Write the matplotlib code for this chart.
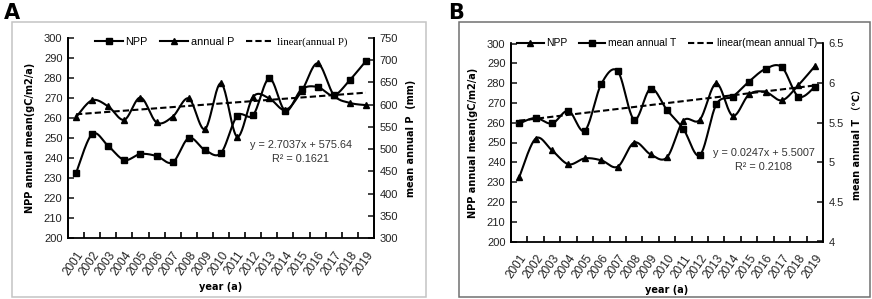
import numpy as np
import matplotlib
matplotlib.use("Agg")
import matplotlib.pyplot as plt
from matplotlib.lines import Line2D
from matplotlib.patches import Rectangle
from matplotlib.ticker import FuncFormatter, FixedLocator

plt.rcParams['font.family'] = ['Liberation Sans Narrow', 'Liberation Sans', 'DejaVu Sans']

years = [str(y) for y in range(2001, 2020)]
npp = [232.5, 252, 246, 239, 242, 241, 237.8, 250, 244, 242.5,
       261, 261.5, 279.8, 263.5, 274.3, 275.5, 271.3, 279, 288.5]
annual_p = [572, 610, 596, 566, 616, 560, 573, 614, 545, 648,
            528, 618, 614, 588, 630, 693, 622, 604, 599]
mean_t = [5.49, 5.56, 5.49, 5.65, 5.40, 5.99, 6.15, 5.54, 5.93, 5.66,
          5.42, 5.09, 5.73, 5.83, 6.02, 6.18, 6.20, 5.83, 5.95]
trend_p = (2.7037, 575.64)
trend_t = (0.0247, 5.5007)
r2_p = 0.1621
r2_t = 0.2108

x = np.arange(1, len(years) + 1)


def smooth(xs, ys, n=24):
    # Excel-style smoothed line (Catmull-Rom through the points)
    xs = np.asarray(xs, float)
    ys = np.asarray(ys, float)
    px = np.concatenate([[xs[0]], xs, [xs[-1]]])
    py = np.concatenate([[ys[0]], ys, [ys[-1]]])
    t = np.linspace(0, 1, n)[:, None]
    outx, outy = [], []
    for i in range(1, len(px) - 2):
        for p, out in ((px, outx), (py, outy)):
            p0, p1, p2, p3 = p[i - 1], p[i], p[i + 1], p[i + 2]
            c = 0.5 * (2 * p1 + (-p0 + p2) * t + (2 * p0 - 5 * p1 + 4 * p2 - p3) * t ** 2
                       + (-p0 + 3 * p1 - 3 * p2 + p3) * t ** 3)
            out.append(c.ravel())
    return np.concatenate(outx), np.concatenate(outy)


def style_axis(ax):
    ax.spines['top'].set_visible(False)
    for s in ['left', 'right', 'bottom']:
        ax.spines[s].set_linewidth(1.3)
    ax.tick_params(axis='y', direction='in', length=4, width=1.2, labelsize=8, colors='#222222', pad=4)


LABEL_FONT = ['DejaVu Sans', 'Noto Sans CJK SC']


def draw_panel(rect, frame_rect, frame_col, letter, letter_x, left_series, left_marker,
               right_series, right_marker, right_lim, right_ticks, right_label,
               left_name, right_name, trend, r2, eq_pos, lin_family, leg_y, leg_size):
    ax = fig.add_axes(rect)
    ax2 = ax.twinx()
    ax.set_zorder(ax2.get_zorder() + 1)
    ax.patch.set_visible(False)

    sx, sy = smooth(x, left_series)
    ax.plot(sx, sy, color='black', lw=1.5)
    ax.plot(x, left_series, ls='none', marker=left_marker, color='black', ms=5)
    sx, sy = smooth(x, right_series)
    ax2.plot(sx, sy, color='black', lw=1.5)
    ax2.plot(x, right_series, ls='none', marker=right_marker, color='black', ms=5)
    tl = trend[0] * x + trend[1]
    ax2.plot(x, tl, color='black', lw=1.5, ls=(0, (3, 1.5)))

    ax.set_xlim(0.5, len(years) + 0.5)
    ax.set_ylim(200, 300)
    ax.set_yticks(np.arange(200, 301, 10))
    ax2.set_ylim(*right_lim)
    ax2.set_yticks(right_ticks)
    ax2.yaxis.set_major_formatter(FuncFormatter(lambda v, p: f'{v:g}'))

    ax.set_xticks(x)
    ax.set_xticklabels(years, rotation=55, ha='right', rotation_mode='anchor', fontsize=8.5, color='#222222')
    ax.tick_params(axis='x', which='major', length=0, pad=8)
    ax.xaxis.set_minor_locator(FixedLocator(np.arange(1.5, len(years), 1)))
    ax.tick_params(axis='x', which='minor', direction='in', length=4, width=1.2)
    style_axis(ax)
    style_axis(ax2)
    ax2.spines['bottom'].set_visible(False)

    ax.set_xlabel('year (a)', fontsize=7, fontweight='bold', family=LABEL_FONT, labelpad=3)
    ax.set_ylabel('NPP annual mean(gC/m2/a)', fontsize=7, fontweight='bold', family=LABEL_FONT, labelpad=6)
    ax2.set_ylabel(right_label, fontsize=7, fontweight='bold', family=LABEL_FONT, labelpad=6)

    handles = [
        Line2D([], [], color='black', lw=1.5, marker=left_marker, ms=5),
        Line2D([], [], color='black', lw=1.5, marker=right_marker, ms=5),
        Line2D([], [], color='black', lw=1.5, ls=(0, (3, 1.5))),
    ]
    leg = ax.legend(handles, [left_name, right_name, 'linear(' + right_name + ')'],
                    loc='center', bbox_to_anchor=(0.5, leg_y), ncol=3, frameon=False,
                    fontsize=leg_size, handlelength=2.6, handletextpad=0.25, columnspacing=1.1,
                    borderaxespad=0, borderpad=0)
    if lin_family:
        leg.get_texts()[2].set_family(lin_family)

    eq = f'y = {trend[0]}x + {trend[1]}\nR² = {r2}'
    ax.text(eq_pos[0], eq_pos[1], eq, transform=ax.transAxes, ha='center', va='top',
            fontsize=7.8, color='#333333', linespacing=1.5)

    fig.patches.append(Rectangle(frame_rect[:2], frame_rect[2], frame_rect[3],
                                 transform=fig.transFigure, fill=False,
                                 edgecolor=frame_col, lw=1.1))
    fig.text(letter_x, 0.99, letter, fontsize=15, fontweight='bold',
             family='DejaVu Sans', va='top', ha='left')
    return ax, ax2


fig = plt.figure(figsize=(8.72, 2.99), dpi=100)

W, H = 872, 299


def frac(l, t, r, b):
    return [l / W, 1 - b / H, (r - l) / W, (b - t) / H]


draw_panel(frac(68, 38, 374, 238), frac(12, 22, 426, 297), '#c4c4c4', 'A', 4 / W,
           npp, 's', annual_p, '^', (300, 750), np.arange(300, 751, 50),
           'mean annual P  (mm)', 'NPP', 'annual P', trend_p, r2_p, (0.76, 0.49),
           'Liberation Serif', 0.98, 7.8)
draw_panel(frac(511, 43.5, 823, 241.5), frac(459, 22, 870, 297), '#707070', 'B', 448 / W,
           npp, '^', mean_t, 's', (4, 6.5), np.arange(4, 6.51, 0.5),
           'mean annual T （℃）', 'NPP', 'mean annual T', trend_t, r2_t, (0.81, 0.47),
           None, 1.0, 7.4)

fig.savefig('out.png', dpi=100)
